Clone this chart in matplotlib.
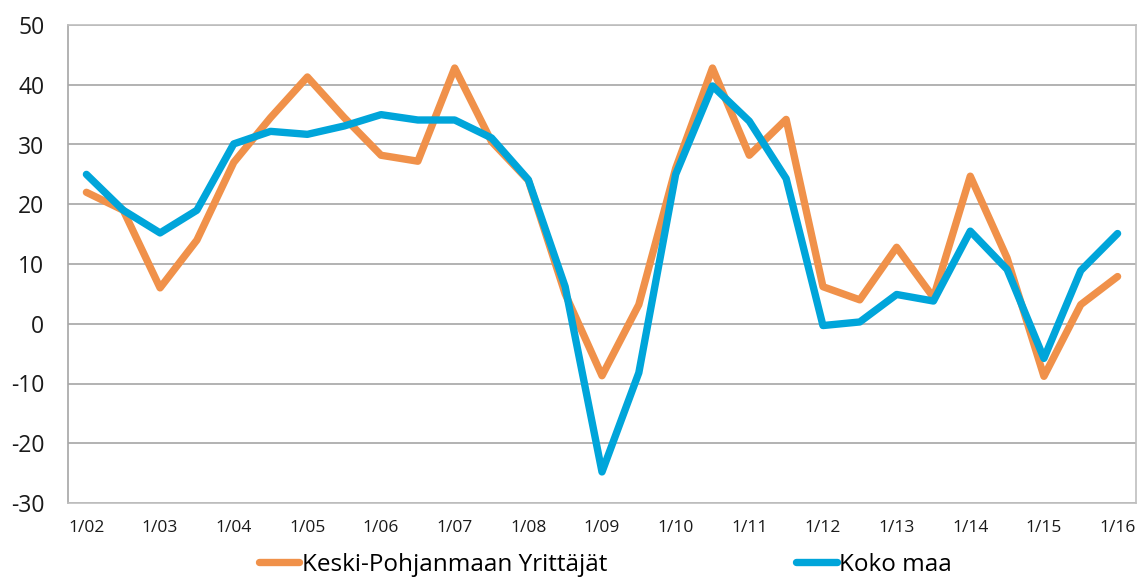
import matplotlib
matplotlib.use("Agg")
import matplotlib.pyplot as plt

periods = ["1/02", "7/02", "1/03", "7/03", "1/04", "7/04", "1/05", "7/05",
           "1/06", "7/06", "1/07", "7/07", "1/08", "7/08", "1/09", "7/09",
           "1/10", "7/10", "1/11", "7/11", "1/12", "7/12", "1/13", "7/13",
           "1/14", "7/14", "1/15", "7/15", "1/16"]

keski_pohjanmaa = [22, 19, 6, 14, 27, 34.5, 41.3, 34.5, 28.2, 27.2, 42.8, 30.5,
                   24, 5, -8.7, 3.2, 26, 42.8, 28.2, 34.2, 6.2, 4.0, 12.8, 4.4,
                   24.7, 11, -8.8, 3.2, 7.9]
koko_maa = [25, 19, 15.2, 19, 30.1, 32.2, 31.7, 33.1, 35, 34.1, 34.1, 31.1,
            24.1, 6.2, -24.8, -8.2, 25, 39.8, 33.9, 24.3, -0.3, 0.3, 4.9, 3.8,
            15.5, 9.1, -5.8, 8.9, 15.1]

series_names = ["Keski-Pohjanmaan Yrittäjät", "Koko maa"]
y_ticks = [-30, -20, -10, 0, 10, 20, 30, 40, 50]

orange = "#F0914A"
blue = "#00A5DA"
grid_c = "#A6A6A6"

plt.rcParams["font.family"] = ["Open Sans", "DejaVu Sans"]

fig = plt.figure(figsize=(11.48, 5.79), dpi=100)
ax = fig.add_axes([68 / 1148, 76 / 579, (1136 - 68) / 1148, (554 - 76) / 579])

x = list(range(len(periods)))
ax.plot(x, keski_pohjanmaa, color=orange, lw=5.3, solid_capstyle="round",
        solid_joinstyle="round", label=series_names[0], zorder=3)
ax.plot(x, koko_maa, color=blue, lw=5.3, solid_capstyle="round",
        solid_joinstyle="round", label=series_names[1], zorder=4)

ax.set_xlim(-0.5, len(periods) - 0.5)
ax.set_ylim(-30, 50)
ax.set_yticks(y_ticks)
ax.set_yticklabels([str(v) for v in y_ticks], fontsize=16.5, color="#1a1a1a")
ax.set_xticks(x[::2])
ax.set_xticklabels(periods[::2], fontsize=12.5, color="#1a1a1a")
ax.tick_params(axis="y", length=0, pad=17)
ax.tick_params(axis="x", length=0, pad=12)

ax.grid(axis="y", color=grid_c, lw=1.2)
ax.set_axisbelow(True)
for side in ["left", "right", "top", "bottom"]:
    ax.spines[side].set_color("#BFBFBF")
    ax.spines[side].set_linewidth(1.2)
ax.spines["left"].set_color(grid_c)

leg = fig.legend(loc="center left", bbox_to_anchor=(259 / 1148, 14 / 579),
                 ncol=2, frameon=False, fontsize=17.5, handlelength=1.65,
                 handletextpad=0.1, columnspacing=7.8, borderaxespad=0,
                 borderpad=0)
for line in leg.get_lines():
    line.set_linewidth(5.3)
    line.set_solid_capstyle("round")

fig.savefig("out.png", dpi=100)
